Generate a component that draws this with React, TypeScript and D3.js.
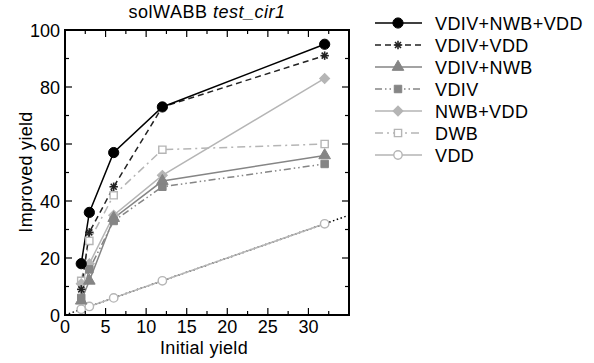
import React from "react";
import * as d3 from "d3";

const xValues = [2, 3, 6, 12, 32];
const seriesNames = ["VDIV+NWB+VDD", "VDIV+VDD", "VDIV+NWB", "VDIV", "NWB+VDD", "DWB", "VDD"];
const sVdivNwbVdd = [18, 36, 57, 73, 95];
const sVdivVdd = [9, 29, 45, 73, 91];
const sVdivNwb = [5, 12, 34, 47, 56];
const sVdiv = [6, 16, 33, 45, 53];
const sNwbVdd = [11, 18, 35, 49, 83];
const sDwb = [12, 26, 42, 58, 60];
const sVdd = [2, 3, 6, 12, 32];
const xTicks = [0, 5, 10, 15, 20, 25, 30];
const yTicks = [0, 20, 40, 60, 80, 100];
const refLine = [0, 35];

const W = 594, H = 363;
const M = { l: 65, r: 349, t: 30, b: 315 };
const FONT = "'Liberation Sans', Arial, Helvetica, sans-serif";

type Style = { color: string; dash: string | null; marker: string; open: boolean };
const styles: Style[] = [
  { color: "#000000", dash: null, marker: "circle", open: false },
  { color: "#222222", dash: "6,4", marker: "asterisk", open: false },
  { color: "#858585", dash: null, marker: "triangle", open: false },
  { color: "#858585", dash: "7,3,1.5,3,1.5,3", marker: "square", open: false },
  { color: "#b5b5b5", dash: null, marker: "diamond", open: false },
  { color: "#b5b5b5", dash: "8,4,2,4", marker: "square", open: true },
  { color: "#b5b5b5", dash: null, marker: "circle", open: true },
];
const allSeries = [sVdivNwbVdd, sVdivVdd, sVdivNwb, sVdiv, sNwbVdd, sDwb, sVdd];

function Marker({ x, y, st }: { x: number; y: number; st: Style }) {
  const fill = st.open ? "#ffffff" : st.color;
  const stroke = st.color;
  if (st.marker === "asterisk") {
    const r = 4.2;
    const lines = [0, 45, 90, 135].map((a) => {
      const rad = (a * Math.PI) / 180;
      return (
        <line key={a} x1={x - r * Math.cos(rad)} y1={y - r * Math.sin(rad)} x2={x + r * Math.cos(rad)} y2={y + r * Math.sin(rad)} stroke={stroke} strokeWidth={1.6} />
      );
    });
    return <g>{lines}</g>;
  }
  let type: d3.SymbolType = d3.symbolCircle;
  let size = 80;
  let rot = 0;
  if (st.marker === "circle") { type = d3.symbolCircle; size = st.open ? 55 : 82; }
  if (st.marker === "triangle") { type = d3.symbolTriangle; size = 58; }
  if (st.marker === "square") { type = d3.symbolSquare; size = st.open ? 52 : 56; }
  if (st.marker === "diamond") { type = d3.symbolSquare; size = 50; rot = 45; }
  const path = d3.symbol().type(type).size(size)() as string;
  return (
    <path d={path} transform={`translate(${x},${y}) rotate(${rot})`} fill={fill} stroke={stroke} strokeWidth={st.open ? 1.4 : 1} />
  );
}

export default function App() {
  const x = d3.scaleLinear().domain([0, 35]).range([M.l, M.r]);
  const y = d3.scaleLinear().domain([0, 100]).range([M.b, M.t]);
  const line = d3.line<number>().x((_, i) => x(xValues[i])).y((d) => y(d));
  const xMinor = d3.range(0, 35.01, 2.5);
  const yMinor = d3.range(0, 100.01, 10);
  const order = [6, 5, 4, 3, 2, 1, 0];
  const legY = (i: number) => 23 + i * 22;

  return (
    <div style={{ position: "absolute", left: 0, top: 0 }}>
      <svg width={W} height={H} style={{ display: "block", fontFamily: FONT }}>
        <rect width={W} height={H} fill="#fff" />
        {/* reference y = x line */}
        <line x1={x(refLine[0])} y1={y(refLine[0])} x2={x(refLine[1])} y2={y(refLine[1])} stroke="#000" strokeWidth={1.5} strokeDasharray="1.5,2.5" />
        {order.map((si) => (
          <path key={"l" + si} d={line(allSeries[si]) as string} fill="none" stroke={styles[si].color} strokeWidth={1.5} strokeDasharray={styles[si].dash ?? undefined} />
        ))}
        {order.map((si) => (
          <g key={"m" + si}>
            {allSeries[si].map((v, i) => (
              <Marker key={i} x={x(xValues[i])} y={y(v)} st={styles[si]} />
            ))}
          </g>
        ))}
        {/* ticks */}
        {xMinor.map((t) => {
          const major = Math.abs(t % 5) < 1e-6;
          const len = major ? 7 : 4;
          return (
            <g key={"xt" + t}>
              <line x1={x(t)} x2={x(t)} y1={M.b} y2={M.b - len} stroke="#000" strokeWidth={1.2} />
              <line x1={x(t)} x2={x(t)} y1={M.t} y2={M.t + len} stroke="#000" strokeWidth={1.2} />
            </g>
          );
        })}
        {yMinor.map((t) => {
          const major = Math.abs(t % 20) < 1e-6;
          const len = major ? 7 : 4;
          return (
            <g key={"yt" + t}>
              <line x1={M.l} x2={M.l + len} y1={y(t)} y2={y(t)} stroke="#000" strokeWidth={1.2} />
              <line x1={M.r} x2={M.r - len} y1={y(t)} y2={y(t)} stroke="#000" strokeWidth={1.2} />
            </g>
          );
        })}
        <rect x={M.l} y={M.t} width={M.r - M.l} height={M.b - M.t} fill="none" stroke="#000" strokeWidth={2} />
        {xTicks.map((t) => (
          <text key={"xl" + t} x={x(t)} y={333} textAnchor="middle" fontSize={18}>{t}</text>
        ))}
        {yTicks.map((t) => (
          <text key={"yl" + t} x={60} y={y(t) + 6.5} textAnchor="end" fontSize={18}>{t}</text>
        ))}
        <text x={204} y={354} textAnchor="middle" fontSize={18} letterSpacing={0.3}>Initial yield</text>
        <text transform={`translate(32,172) rotate(-90)`} textAnchor="middle" fontSize={18} letterSpacing={0.3}>Improved yield</text>
        <text x={207} y={18} textAnchor="middle" fontSize={18} letterSpacing={0.5}>
          solWABB <tspan fontStyle="italic">test_cir1</tspan>
        </text>
        {/* legend */}
        {seriesNames.map((name, i) => (
          <g key={"lg" + i}>
            <line x1={375} x2={422} y1={legY(i)} y2={legY(i)} stroke={styles[i].color} strokeWidth={1.5} strokeDasharray={styles[i].dash ?? undefined} />
            <Marker x={398} y={legY(i)} st={styles[i]} />
            <text x={435} y={legY(i) + 6.5} fontSize={18} letterSpacing={0.4}>{name}</text>
          </g>
        ))}
      </svg>
    </div>
  );
}
